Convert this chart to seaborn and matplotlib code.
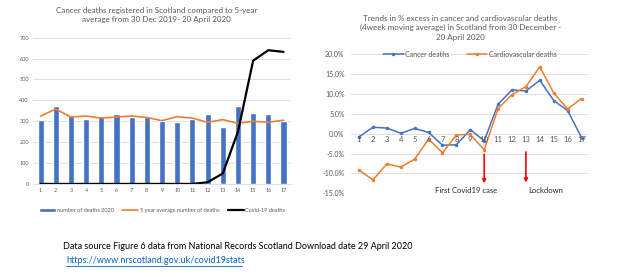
import numpy as np
import pandas as pd
import matplotlib
matplotlib.use("Agg")
import matplotlib.pyplot as plt
import seaborn as sns

sns.set_theme(style="white")
plt.rcParams['font.family'] = ['Lato', 'DejaVu Sans']

weeks = [str(i) for i in range(1, 18)]
deaths_2020 = [307, 375, 330, 310, 325, 335, 320, 318, 300, 297, 312, 335, 272, 375, 340, 333, 302]
avg_5yr = [325, 358, 320, 325, 315, 320, 325, 318, 303, 322, 315, 295, 308, 290, 300, 295, 305]
covid = [0, 0, 0, 0, 0, 0, 0, 0, 0, 0, 0, 8, 50, 250, 590, 640, 632]

week_num = list(range(1, 18))
cancer_pct = [-0.8, 1.6, 1.4, 0.1, 1.3, 0.3, -2.9, -2.8, 1.0, -1.8, 7.4, 11.0, 10.7, 13.4, 8.3, 5.8, -1.0]
cardio_pct = [-9.2, -11.6, -7.6, -8.4, -6.4, -1.4, -4.8, -0.3, -0.2, -4.1, 6.3, 9.8, 11.8, 16.8, 10.2, 6.2, 8.8]

BLUE = "#4472C4"
ORANGE = "#ED7D31"
GRID = "#D9D9D9"
TXT = "#595959"

fig = plt.figure(figsize=(6.22, 2.77), dpi=100)

# ---------------- Left chart ----------------
ax1 = fig.add_axes([0.053, 0.336, 0.415, 0.528])
df1 = pd.DataFrame({"week": weeks, "deaths": deaths_2020, "avg": avg_5yr, "covid": covid})
sns.barplot(data=df1, x="week", y="deaths", color=BLUE, width=0.4, ax=ax1,
            label="number of deaths 2020", saturation=1)
pos = np.arange(len(weeks))
sns.lineplot(x=pos, y=avg_5yr, color=ORANGE, lw=1.2, ax=ax1, label="5 year average number of deaths")
sns.lineplot(x=pos, y=covid, color="black", lw=1.6, ax=ax1, label="Covid-19 deaths")
ax1.set_xlim(-0.5, 16.5)
ax1.set_ylim(0, 700)
ax1.set_yticks(range(0, 701, 100))
ax1.grid(axis="y", color=GRID, lw=0.6)
ax1.set_axisbelow(True)
for s in ["top", "right", "left"]:
    ax1.spines[s].set_visible(False)
ax1.spines["bottom"].set_color(GRID)
ax1.spines["bottom"].set_linewidth(0.6)
ax1.tick_params(axis="both", length=0, labelsize=4, labelcolor=TXT, pad=3)
ax1.set_xlabel("")
ax1.set_ylabel("")
ax1.legend_.remove()
h, l = ax1.get_legend_handles_labels()
order = [l.index("number of deaths 2020"), l.index("5 year average number of deaths"), l.index("Covid-19 deaths")]
ax1.legend([h[i] for i in order], [l[i] for i in order], loc="upper center",
           bbox_to_anchor=(0.5, -0.13), ncol=3, frameon=False,
           fontsize=4, labelcolor=TXT, handlelength=3, columnspacing=1.5, handletextpad=0.2)
fig.text(0.252, 0.945, "Cancer deaths registered in Scotland compared to 5-year\naverage from 30 Dec 2019- 20 April 2020",
         ha="center", va="center", fontsize=5.8, color=TXT, linespacing=1.3)

# ---------------- Right chart ----------------
ax2 = fig.add_axes([0.565, 0.302, 0.380, 0.503])
df2 = pd.DataFrame({"week": week_num, "cancer": cancer_pct, "cardio": cardio_pct})
sns.lineplot(data=df2, x="week", y="cancer", color=BLUE, marker="o", markersize=2.5,
             markeredgewidth=0, lw=1.1, ax=ax2, label="Cancer deaths")
sns.lineplot(data=df2, x="week", y="cardio", color=ORANGE, marker="o", markersize=2.5,
             markeredgewidth=0, lw=1.1, ax=ax2, label="Cardiovascular deaths")
ax2.set_xlim(0.45, 17.45)
ax2.set_ylim(-15, 20)
ax2.set_yticks(range(-15, 21, 5))
ax2.set_yticklabels([f"{v:.1f}%" for v in range(-15, 21, 5)])
ax2.set_xticks([])
ax2.grid(axis="y", color=GRID, lw=0.6)
ax2.set_axisbelow(True)
for s in ["top", "right", "left", "bottom"]:
    ax2.spines[s].set_visible(False)
ax2.tick_params(axis="y", length=0, labelsize=5, labelcolor=TXT, pad=5)
for w in week_num:
    ax2.text(w, -0.6, str(w), ha="center", va="top", fontsize=5.5, color=TXT)
ax2.set_xlabel("")
ax2.set_ylabel("")
ax2.legend(loc="center", bbox_to_anchor=(0.5, 1.0), ncol=2, frameon=False,
           fontsize=5, labelcolor=TXT, handlelength=3, columnspacing=2.5, handletextpad=0.2)
ax2.annotate("", xy=(10, -13.2), xytext=(10, -4.5),
             arrowprops=dict(arrowstyle="-|>", color="red", lw=1.2, mutation_scale=5))
ax2.annotate("", xy=(13, -13.0), xytext=(13, -3.9),
             arrowprops=dict(arrowstyle="-|>", color="red", lw=1.2, mutation_scale=5))
ax2.text(8.72, -14.3, "First Covid19 case", ha="center", va="center", fontsize=5.5, color="#262626")
ax2.text(13.15, -14.2, "Lockdown", ha="left", va="center", fontsize=5.5, color="#262626")
fig.text(0.74, 0.90, "Trends in % excess in cancer and cardiovascular deaths\n(4week moving average) in Scotland from 30 December -\n20 April 2020",
         ha="center", va="center", fontsize=5.8, color=TXT, linespacing=1.4)

# ---------------- Footer ----------------
fig.text(0.101, 0.109, "Data source Figure 6 data from National Records Scotland Download date 29 April 2020",
         ha="left", va="center", fontsize=6.45, color="black")
fig.text(0.106, 0.059, "https://www.nrscotland.gov.uk/covid19stats",
         ha="left", va="center", fontsize=6.5, color="#0563C1")
fig.add_artist(plt.Line2D([0.106, 0.389], [0.038, 0.038], color="#0563C1", lw=0.6))

fig.savefig("out.png", dpi=100)
